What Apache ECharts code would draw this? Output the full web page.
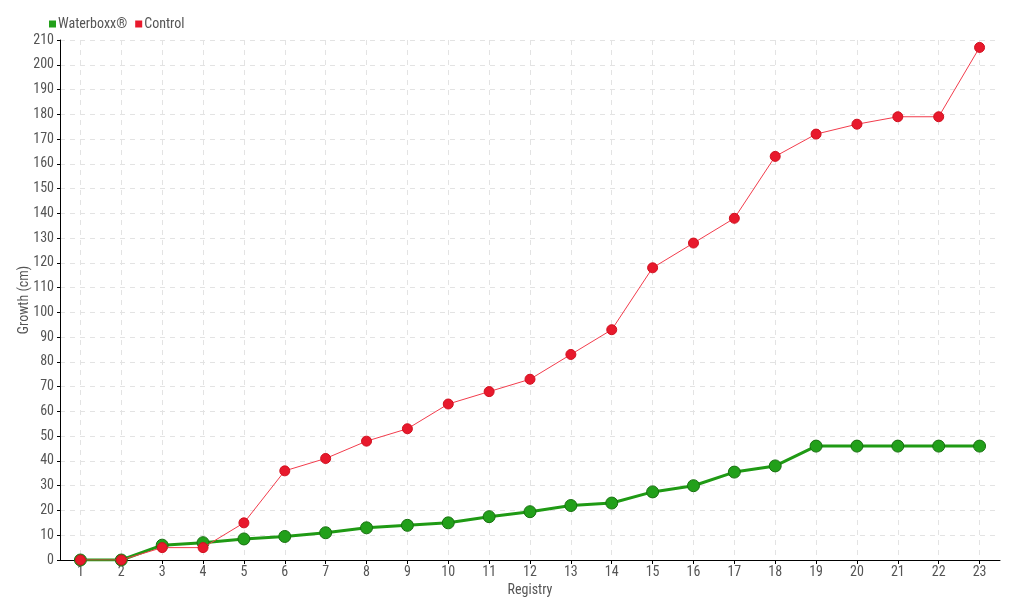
<!DOCTYPE html>
<html>
<head>
<meta charset="utf-8">
<script src="https://cdn.jsdelivr.net/npm/echarts@6/dist/echarts.min.js"></script>
<style>html,body{margin:0;padding:0;background:#fff}#c{width:1020px;height:600px}</style>
</head>
<body>
<div id="c"></div>
<script>
var categories = [1,2,3,4,5,6,7,8,9,10,11,12,13,14,15,16,17,18,19,20,21,22,23];
var waterboxx = [0,0,6,7,8.5,9.5,11,13,14,15,17.5,19.5,22,23,27.5,30,35.5,38,46,46,46,46,46];
var control = [0,0,5,5,15,36,41,48,53,63,68,73,83,93,118,128,138,163,172,176,179,179,207];
var yTicks = [0,210,10];

var FONT = "'Liberation Sans Narrow','Roboto Condensed',Lato,sans-serif";
var TXT = '#555';
function pairs(arr){ return categories.map(function(c,i){ return [c, arr[i]]; }); }

var chart = echarts.init(document.getElementById('c'), null, {renderer:'canvas'});
chart.setOption({
  animation:false,
  textStyle:{fontFamily:FONT},
  legend:{
    left:44, top:12, itemWidth:7, itemHeight:7, itemGap:8,
    icon:'rect',
    itemStyle:{borderWidth:0},
    textStyle:{fontFamily:FONT, fontSize:14, color:TXT, padding:[0,0,0,-3]},
    data:['Waterboxx®','Control']
  },
  grid:{left:60, right:20, top:40, bottom:40, containLabel:false, outerBoundsMode:'none'},
  xAxis:{
    type:'value', min:0.5, max:23.5,
    name:'Registry', nameLocation:'middle', nameGap:22,
    nameTextStyle:{fontFamily:FONT, fontSize:14, color:TXT},
    axisLine:{show:true, onZero:false, lineStyle:{color:'#000', width:1}},
    axisTick:{show:true, customValues:categories, length:4, lineStyle:{color:'#000'}},
    axisLabel:{customValues:categories, fontFamily:FONT, fontSize:14, color:TXT, margin:5},
    splitLine:{show:true, lineStyle:{color:'#e3e3e3', type:[5,5], width:1}}
  },
  yAxis:{
    type:'value', min:yTicks[0], max:yTicks[1], interval:yTicks[2],
    name:'Growth (cm)', nameLocation:'middle', nameGap:29, nameMoveOverlap:false,
    nameTextStyle:{fontFamily:FONT, fontSize:14, color:TXT},
    axisLine:{show:true, lineStyle:{color:'#000', width:1}},
    axisTick:{show:true, length:3, lineStyle:{color:'#000'}},
    axisLabel:{fontFamily:FONT, fontSize:14, color:TXT, margin:6},
    splitLine:{show:true, lineStyle:{color:'#e3e3e3', type:[5,5], width:1}}
  },
  series:[
    {
      name:'Waterboxx®', type:'line', data:pairs(waterboxx),
      color:'#1f9a14',
      symbol:'circle', symbolSize:12,
      lineStyle:{color:'#1f9a14', width:3},
      itemStyle:{color:'#22a01a', borderColor:'#17700f', borderWidth:1},
      z:2
    },
    {
      name:'Control', type:'line', data:pairs(control),
      color:'#e8192c',
      symbol:'circle', symbolSize:10,
      lineStyle:{color:'#f23c4c', width:1},
      itemStyle:{color:'#e8192c', borderColor:'#d0101f', borderWidth:1},
      z:3
    }
  ]
});
</script>
</body>
</html>
